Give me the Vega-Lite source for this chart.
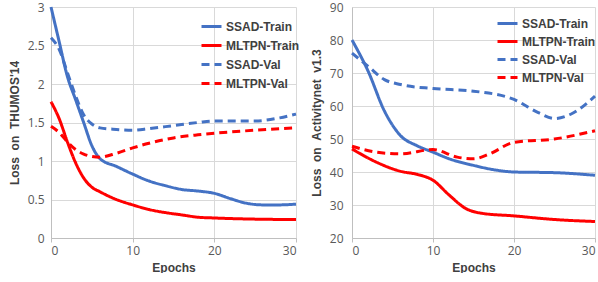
{
  "$schema": "https://vega.github.io/schema/vega-lite/v6.json",
  "padding": {"left": 8, "top": 1, "right": 0, "bottom": 0},
  "background": "white",
  "spacing": 8,
  "config": {
    "font": "Liberation Sans",
    "view": {"stroke": null},
    "axis": {
      "labelFont": "Open Sans", "labelFontSize": 12, "labelColor": "#595959",
      "titleFont": "Liberation Sans", "titleFontSize": 12, "titleFontWeight": "bold", "titleColor": "#404040",
      "gridColor": "#d9d9d9", "gridWidth": 1, "domainColor": "#bfbfbf", "tickColor": "#bfbfbf"
    },
    "legend": {
      "labelFont": "Liberation Sans", "labelFontSize": 12, "labelFontWeight": "bold", "labelColor": "#404040",
      "symbolType": "stroke", "symbolStrokeWidth": 3, "symbolSize": 400, "labelOffset": 3, "title": null, "padding": 0
    }
  },
  "datasets": {
    "thumos": [
      {"series": "SSAD-Train", "epoch": 0, "loss": 3.0},
      {"series": "SSAD-Train", "epoch": 1, "loss": 2.55},
      {"series": "SSAD-Train", "epoch": 2, "loss": 2.1},
      {"series": "SSAD-Train", "epoch": 3, "loss": 1.8},
      {"series": "SSAD-Train", "epoch": 4, "loss": 1.5},
      {"series": "SSAD-Train", "epoch": 5, "loss": 1.2},
      {"series": "SSAD-Train", "epoch": 6, "loss": 1.03},
      {"series": "SSAD-Train", "epoch": 8, "loss": 0.93},
      {"series": "SSAD-Train", "epoch": 10, "loss": 0.83},
      {"series": "SSAD-Train", "epoch": 12, "loss": 0.74},
      {"series": "SSAD-Train", "epoch": 14, "loss": 0.68},
      {"series": "SSAD-Train", "epoch": 16, "loss": 0.63},
      {"series": "SSAD-Train", "epoch": 18, "loss": 0.61},
      {"series": "SSAD-Train", "epoch": 20, "loss": 0.58},
      {"series": "SSAD-Train", "epoch": 22, "loss": 0.51},
      {"series": "SSAD-Train", "epoch": 24, "loss": 0.45},
      {"series": "SSAD-Train", "epoch": 26, "loss": 0.43},
      {"series": "SSAD-Train", "epoch": 28, "loss": 0.43},
      {"series": "SSAD-Train", "epoch": 30, "loss": 0.44},
      {"series": "MLTPN-Train", "epoch": 0, "loss": 1.77},
      {"series": "MLTPN-Train", "epoch": 1, "loss": 1.55},
      {"series": "MLTPN-Train", "epoch": 2, "loss": 1.25},
      {"series": "MLTPN-Train", "epoch": 3, "loss": 0.98},
      {"series": "MLTPN-Train", "epoch": 4, "loss": 0.78},
      {"series": "MLTPN-Train", "epoch": 5, "loss": 0.66},
      {"series": "MLTPN-Train", "epoch": 6, "loss": 0.6},
      {"series": "MLTPN-Train", "epoch": 8, "loss": 0.5},
      {"series": "MLTPN-Train", "epoch": 10, "loss": 0.43},
      {"series": "MLTPN-Train", "epoch": 12, "loss": 0.37},
      {"series": "MLTPN-Train", "epoch": 14, "loss": 0.33},
      {"series": "MLTPN-Train", "epoch": 16, "loss": 0.3},
      {"series": "MLTPN-Train", "epoch": 18, "loss": 0.27},
      {"series": "MLTPN-Train", "epoch": 20, "loss": 0.26},
      {"series": "MLTPN-Train", "epoch": 25, "loss": 0.245},
      {"series": "MLTPN-Train", "epoch": 30, "loss": 0.24},
      {"series": "SSAD-Val", "epoch": 0, "loss": 2.6},
      {"series": "SSAD-Val", "epoch": 1, "loss": 2.45},
      {"series": "SSAD-Val", "epoch": 2, "loss": 2.15},
      {"series": "SSAD-Val", "epoch": 3, "loss": 1.85},
      {"series": "SSAD-Val", "epoch": 4, "loss": 1.6},
      {"series": "SSAD-Val", "epoch": 5, "loss": 1.48},
      {"series": "SSAD-Val", "epoch": 6, "loss": 1.43},
      {"series": "SSAD-Val", "epoch": 8, "loss": 1.41},
      {"series": "SSAD-Val", "epoch": 10, "loss": 1.4},
      {"series": "SSAD-Val", "epoch": 12, "loss": 1.42},
      {"series": "SSAD-Val", "epoch": 15, "loss": 1.46},
      {"series": "SSAD-Val", "epoch": 18, "loss": 1.5},
      {"series": "SSAD-Val", "epoch": 20, "loss": 1.52},
      {"series": "SSAD-Val", "epoch": 22, "loss": 1.52},
      {"series": "SSAD-Val", "epoch": 25, "loss": 1.52},
      {"series": "SSAD-Val", "epoch": 28, "loss": 1.56},
      {"series": "SSAD-Val", "epoch": 30, "loss": 1.61},
      {"series": "MLTPN-Val", "epoch": 0, "loss": 1.45},
      {"series": "MLTPN-Val", "epoch": 1, "loss": 1.37},
      {"series": "MLTPN-Val", "epoch": 2, "loss": 1.25},
      {"series": "MLTPN-Val", "epoch": 3, "loss": 1.15},
      {"series": "MLTPN-Val", "epoch": 4, "loss": 1.09},
      {"series": "MLTPN-Val", "epoch": 5, "loss": 1.06},
      {"series": "MLTPN-Val", "epoch": 6, "loss": 1.05},
      {"series": "MLTPN-Val", "epoch": 8, "loss": 1.1},
      {"series": "MLTPN-Val", "epoch": 10, "loss": 1.17},
      {"series": "MLTPN-Val", "epoch": 12, "loss": 1.23},
      {"series": "MLTPN-Val", "epoch": 15, "loss": 1.3},
      {"series": "MLTPN-Val", "epoch": 18, "loss": 1.34},
      {"series": "MLTPN-Val", "epoch": 20, "loss": 1.36},
      {"series": "MLTPN-Val", "epoch": 25, "loss": 1.4},
      {"series": "MLTPN-Val", "epoch": 30, "loss": 1.43}
    ],
    "anet": [
      {"series": "SSAD-Train", "epoch": 0, "loss": 80},
      {"series": "SSAD-Train", "epoch": 2, "loss": 70.5},
      {"series": "SSAD-Train", "epoch": 4, "loss": 58.5},
      {"series": "SSAD-Train", "epoch": 6, "loss": 51},
      {"series": "SSAD-Train", "epoch": 8, "loss": 48},
      {"series": "SSAD-Train", "epoch": 10, "loss": 46},
      {"series": "SSAD-Train", "epoch": 12, "loss": 44},
      {"series": "SSAD-Train", "epoch": 15, "loss": 42},
      {"series": "SSAD-Train", "epoch": 18, "loss": 40.5},
      {"series": "SSAD-Train", "epoch": 20, "loss": 40},
      {"series": "SSAD-Train", "epoch": 25, "loss": 39.8},
      {"series": "SSAD-Train", "epoch": 30, "loss": 39},
      {"series": "MLTPN-Train", "epoch": 0, "loss": 47},
      {"series": "MLTPN-Train", "epoch": 3, "loss": 43},
      {"series": "MLTPN-Train", "epoch": 6, "loss": 40.2},
      {"series": "MLTPN-Train", "epoch": 8, "loss": 39.3},
      {"series": "MLTPN-Train", "epoch": 10, "loss": 37.5},
      {"series": "MLTPN-Train", "epoch": 12, "loss": 33},
      {"series": "MLTPN-Train", "epoch": 14, "loss": 29},
      {"series": "MLTPN-Train", "epoch": 16, "loss": 27.5},
      {"series": "MLTPN-Train", "epoch": 20, "loss": 26.7},
      {"series": "MLTPN-Train", "epoch": 25, "loss": 25.6},
      {"series": "MLTPN-Train", "epoch": 30, "loss": 25},
      {"series": "SSAD-Val", "epoch": 0, "loss": 76},
      {"series": "SSAD-Val", "epoch": 2, "loss": 72},
      {"series": "SSAD-Val", "epoch": 4, "loss": 68},
      {"series": "SSAD-Val", "epoch": 6, "loss": 66.5},
      {"series": "SSAD-Val", "epoch": 10, "loss": 65.3},
      {"series": "SSAD-Val", "epoch": 15, "loss": 64.5},
      {"series": "SSAD-Val", "epoch": 20, "loss": 62},
      {"series": "SSAD-Val", "epoch": 23, "loss": 58},
      {"series": "SSAD-Val", "epoch": 25, "loss": 56.2},
      {"series": "SSAD-Val", "epoch": 27, "loss": 57.5},
      {"series": "SSAD-Val", "epoch": 30, "loss": 63},
      {"series": "MLTPN-Val", "epoch": 0, "loss": 47.8},
      {"series": "MLTPN-Val", "epoch": 3, "loss": 46},
      {"series": "MLTPN-Val", "epoch": 6, "loss": 45.5},
      {"series": "MLTPN-Val", "epoch": 10, "loss": 46.8},
      {"series": "MLTPN-Val", "epoch": 13, "loss": 44.5},
      {"series": "MLTPN-Val", "epoch": 15, "loss": 44},
      {"series": "MLTPN-Val", "epoch": 17, "loss": 45.5},
      {"series": "MLTPN-Val", "epoch": 20, "loss": 49},
      {"series": "MLTPN-Val", "epoch": 25, "loss": 50},
      {"series": "MLTPN-Val", "epoch": 30, "loss": 52.5}
    ]
  },
  "resolve": {"scale": {"color": "independent", "strokeDash": "independent", "x": "independent", "y": "independent"}, "legend": {"color": "independent", "strokeDash": "independent"}},
  "hconcat": [
    {
      "width": 245,
      "height": 231,
      "data": {"name": "thumos"},
      "mark": {"type": "line", "interpolate": "monotone", "strokeWidth": 3},
      "encoding": {
        "x": {"field": "epoch", "type": "quantitative", "scale": {"domain": [0, 30], "nice": false}, "axis": {"values": [0, 10, 20, 30], "title": "Epochs", "tickSize": 4, "labelPadding": 3, "titlePadding": 6}},
        "y": {"field": "loss", "type": "quantitative", "scale": {"domain": [0, 3], "nice": false}, "axis": {"values": [0, 0.5, 1, 1.5, 2, 2.5, 3], "format": "~g", "title": "Loss\u00a0\u00a0on\u00a0\u00a0THUMOS'14", "ticks": false, "labelPadding": 7, "titlePadding": 6}},
        "color": {"field": "series", "type": "nominal", "scale": {"domain": ["SSAD-Train", "MLTPN-Train", "SSAD-Val", "MLTPN-Val"], "range": ["#4472C4", "#FF0000", "#4472C4", "#FF0000"]}, "legend": {"orient": "none", "legendX": 149, "legendY": 8, "rowPadding": 1}},
        "strokeDash": {"field": "series", "type": "nominal", "scale": {"domain": ["SSAD-Train", "MLTPN-Train", "SSAD-Val", "MLTPN-Val"], "range": [[1, 0], [1, 0], [8, 5], [8, 5]]}, "legend": {"orient": "none", "legendX": 149, "legendY": 8, "rowPadding": 1}}
      }
    },
    {
      "width": 243,
      "height": 231,
      "data": {"name": "anet"},
      "mark": {"type": "line", "interpolate": "monotone", "strokeWidth": 3},
      "encoding": {
        "x": {"field": "epoch", "type": "quantitative", "scale": {"domain": [0, 30], "nice": false}, "axis": {"values": [0, 10, 20, 30], "title": "Epochs", "tickSize": 4, "labelPadding": 3, "titlePadding": 6}},
        "y": {"field": "loss", "type": "quantitative", "scale": {"domain": [20, 90], "nice": false}, "axis": {"values": [20, 30, 40, 50, 60, 70, 80, 90], "title": "Loss\u00a0\u00a0on\u00a0\u00a0Activitynet\u00a0\u00a0v1.3", "ticks": false, "labelPadding": 9, "titlePadding": 6}},
        "color": {"field": "series", "type": "nominal", "scale": {"domain": ["SSAD-Train", "MLTPN-Train", "SSAD-Val", "MLTPN-Val"], "range": ["#4472C4", "#FF0000", "#4472C4", "#FF0000"]}, "legend": {"orient": "none", "legendX": 144, "legendY": 5, "rowPadding": -1.5}},
        "strokeDash": {"field": "series", "type": "nominal", "scale": {"domain": ["SSAD-Train", "MLTPN-Train", "SSAD-Val", "MLTPN-Val"], "range": [[1, 0], [1, 0], [8, 5], [8, 5]]}, "legend": {"orient": "none", "legendX": 144, "legendY": 5, "rowPadding": -1.5}}
      }
    }
  ]
}
